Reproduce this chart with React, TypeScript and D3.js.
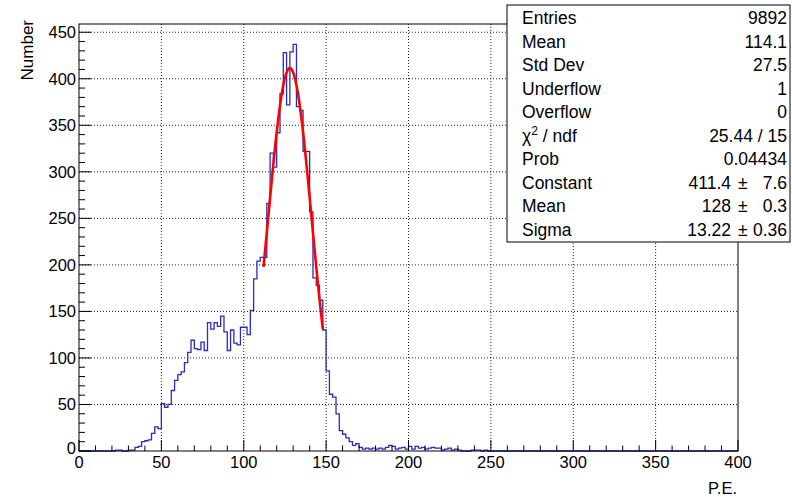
import React from "react";
import * as d3 from "d3";

// Histogram: 200 bins of width 2 over [0, 400]; counts (bin low edge -> count)
const binLowEdges: number[] = [
  22, 24, 30, 32, 34, 36, 38, 40, 42, 44, 46, 48,
  50, 52, 54, 56, 58, 60, 62, 64, 66, 68,
  70, 72, 74, 76, 78, 80, 82, 84, 86, 88,
  90, 92, 94, 96, 98, 100, 102, 104, 106, 108,
  110, 112, 114, 116, 118, 120, 122, 124, 126, 128,
  130, 132, 134, 136, 138, 140, 142, 144, 146, 148,
  150, 152, 154, 156, 158, 160, 162, 164, 166, 168,
  170, 172, 174, 176, 178, 180, 182, 184, 186, 188,
  190, 192, 194, 196, 198, 200, 202, 204, 206, 208,
  210, 212, 214, 216, 218, 220, 222, 224, 226, 228,
  230, 238, 240, 242, 246,
];
const binCounts: number[] = [
  1, 1, 1, 1, 4, 5, 10, 11, 12, 19, 26, 24,
  51, 47, 50, 65, 76, 82, 85, 95, 106, 119,
  110, 109, 117, 108, 138, 131, 138, 134, 145, 128,
  108, 130, 116, 114, 133, 133, 125, 151, 185, 204,
  208, 208, 266, 320, 305, 342, 384, 428, 372, 429,
  437, 370, 366, 322, 322, 257, 186, 178, 162, 130,
  86, 61, 58, 40, 22, 18, 14, 10, 6, 8,
  4, 2, 3, 2, 3, 2, 3, 2, 4, 6,
  5, 2, 3, 4, 2, 5, 2, 5, 3, 4,
  2, 3, 4, 3, 3, 1, 2, 3, 1, 2,
  1, 1, 1, 1, 1,
];

const xTickLabels: number[] = [0, 50, 100, 150, 200, 250, 300, 350, 400];
const yTickLabels: number[] = [0, 50, 100, 150, 200, 250, 300, 350, 400, 450];

const statLabels: string[] = ["Entries", "Mean", "Std Dev", "Underflow", "Overflow", "χ2 / ndf", "Prob", "Constant", "Mean", "Sigma"];
const statValues: string[] = ["9892", "114.1", "27.5", "1", "0", "25.44 / 15", "0.04434", "411.4", "128", "13.22"];
const statErrors: string[] = ["", "", "", "", "", "", "", "7.6", "0.3", "0.36"];

// Gaussian fit parameters and range
const fitConstant = 411.4;
const fitMean = 128;
const fitSigma = 13.22;
const fitRange: number[] = [112, 148];

const BIN_W = 2;
const NBINS = 200;
const FONT = "'Liberation Sans', Arial, Helvetica, sans-serif";

export default function App() {
  const W = 792, H = 497;
  const left = 79, right = 738, top = 24, bottom = 451;
  const maxCount = d3.max(binCounts) as number;
  const x = d3.scaleLinear().domain([0, 400]).range([left, right]);
  const y = d3.scaleLinear().domain([0, maxCount * 1.05]).range([bottom, top]);

  const counts = new Array(NBINS).fill(0);
  binLowEdges.forEach((e, i) => { counts[Math.round(e / BIN_W)] = binCounts[i]; });
  const pts: [number, number][] = counts.map((c, i) => [i * BIN_W, c]);
  pts.push([400, counts[NBINS - 1]]);
  const histPath = d3.line<[number, number]>().x(d => x(d[0])).y(d => y(d[1])).curve(d3.curveStepAfter)(pts) || "";

  const gaussPts: [number, number][] = d3.range(fitRange[0], fitRange[1] + 0.001, 0.25).map(v => [v, fitConstant * Math.exp(-0.5 * ((v - fitMean) / fitSigma) ** 2)]);
  const gaussPath = d3.line<[number, number]>().x(d => x(d[0])).y(d => y(d[1])).curve(d3.curveLinear)(gaussPts) || "";

  const xMinor = d3.range(0, 401, 10);
  const yMinor = d3.range(0, 451, 10);

  const boxX = 507, boxY = 5, boxW = 283, boxH = 237;
  const rowH = 23.5;

  return (
    <svg width={W} height={H} style={{ position: "absolute", left: 0, top: 0, background: "#fff" }} fontFamily={FONT}>
      <rect x={0} y={0} width={W} height={H} fill="#fff" />
      {/* grid */}
      <g stroke="#222" strokeWidth={1} strokeDasharray="1,2">
        {xTickLabels.filter(v => v > 0 && v < 400).map(v => (
          <line key={"gx" + v} x1={x(v)} x2={x(v)} y1={top} y2={bottom} />
        ))}
        {yTickLabels.filter(v => v > 0).map(v => (
          <line key={"gy" + v} x1={left} x2={right} y1={y(v)} y2={y(v)} />
        ))}
      </g>
      {/* histogram */}
      <path d={histPath} fill="none" stroke="#2b2bc0" strokeWidth={1.3} />
      {/* fit */}
      <path d={gaussPath} fill="none" stroke="#ff0000" strokeWidth={2.6} />
      {/* frame */}
      <rect x={left} y={top} width={right - left} height={bottom - top} fill="none" stroke="#000" strokeWidth={1} />
      {/* ticks */}
      <g stroke="#000" strokeWidth={1}>
        {xMinor.map(v => (
          <line key={"xt" + v} x1={x(v)} x2={x(v)} y1={bottom} y2={bottom - (v % 50 === 0 ? 11 : 5.5)} />
        ))}
        {yMinor.map(v => (
          <line key={"yt" + v} x1={left} x2={left + (v % 50 === 0 ? 12 : 6)} y1={y(v)} y2={y(v)} />
        ))}
      </g>
      {/* tick labels */}
      <g fontSize={16.5} fill="#000">
        {xTickLabels.map(v => (
          <text key={"xl" + v} x={x(v)} y={468} textAnchor="middle">{v}</text>
        ))}
        {yTickLabels.map(v => (
          <text key={"yl" + v} x={76} y={y(v) + (v === 0 ? 3 : 6)} textAnchor="end">{v}</text>
        ))}
      </g>
      <text x={737} y={494} fontSize={16.5} textAnchor="end">P.E.</text>
      <text transform={`translate(33,20) rotate(-90)`} fontSize={17} textAnchor="end">Number</text>
      {/* stats box */}
      <rect x={boxX} y={boxY} width={boxW} height={boxH} fill="#fff" stroke="#000" strokeWidth={1} />
      <g fontSize={17.5} fill="#000">
        {statLabels.map((lab, i) => {
          const by = 24 + i * rowH;
          return (
            <g key={"s" + i}>
              {lab.startsWith("χ2") ? (
                <text x={522} y={by}>χ<tspan fontSize={12} dy={-7}>2</tspan><tspan dy={7}> / ndf</tspan></text>
              ) : (
                <text x={522} y={by}>{lab}</text>
              )}
              {statErrors[i] ? (
                <>
                  <text x={731} y={by} textAnchor="end">{statValues[i]}</text>
                  <text x={738} y={by}>±</text>
                  <text x={787} y={by} textAnchor="end">{statErrors[i]}</text>
                </>
              ) : (
                <text x={787} y={by} textAnchor="end">{statValues[i]}</text>
              )}
            </g>
          );
        })}
      </g>
    </svg>
  );
}
